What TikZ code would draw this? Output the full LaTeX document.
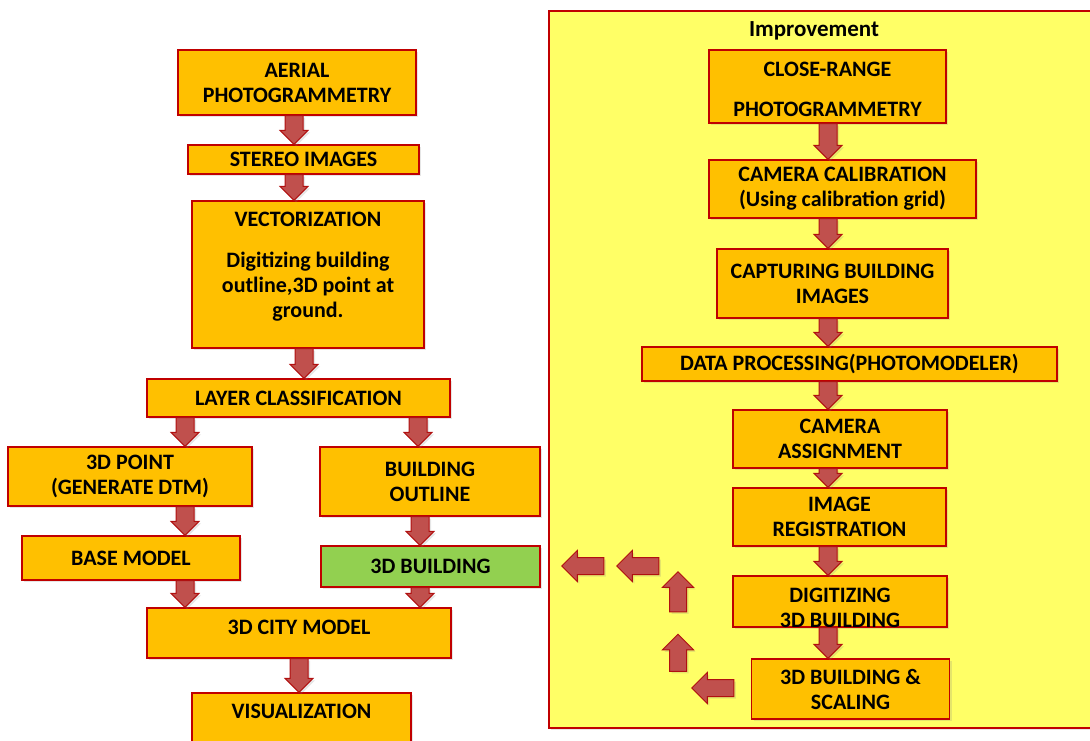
\documentclass[tikz,border=0pt]{standalone}
\usepackage{fontspec}
\setmainfont{Carlito}
\usetikzlibrary{calc,shapes.arrows,shadows}

\definecolor{boxfill}{HTML}{FFC000}
\definecolor{boxline}{HTML}{C00000}
\definecolor{arrfill}{HTML}{C0504D}
\definecolor{arrline}{HTML}{B01010}
\definecolor{greenfill}{HTML}{92D050}
\definecolor{panelfill}{HTML}{FFFF66}

\tikzset{
  box/.style={draw=boxline, fill=boxfill, line width=1.2pt, align=center,
    font=\bfseries\fontsize{22}{25}\selectfont,
    drop shadow={shadow xshift=2pt, shadow yshift=-2pt, opacity=0.2}},
  blk/.style={draw=arrline, fill=arrfill, line width=1pt,
    drop shadow={shadow xshift=2pt, shadow yshift=-2pt, opacity=0.2}},
  sidearrow/.style={single arrow, draw=arrline, fill=arrfill, line width=1pt,
    inner sep=8pt, single arrow head extend=7pt, minimum height=42pt,
    drop shadow={shadow xshift=2pt, shadow yshift=-2pt, opacity=0.2}}
}

% block arrow straight down at x = #1, from node #2 to node #3
\newcommand{\downblk}[3]{%
  \path[blk] let \p1=(#2.south), \p2=(#3.north) in
    ({#1pt-9pt},\y1) -- ({#1pt+9pt},\y1) -- ({#1pt+9pt},{\y2+14pt})
    -- ({#1pt+14pt},{\y2+14pt}) -- ({#1pt},\y2) -- ({#1pt-14pt},{\y2+14pt})
    -- ({#1pt-9pt},{\y2+14pt}) -- cycle;}

\begin{document}
\begin{tikzpicture}[x=1pt, y=-1pt]
  \useasboundingbox (0,0) rectangle (1090,740);

  % improvement panel
  \node[draw=boxline, fill=panelfill, line width=1.5pt, anchor=north west,
    minimum width=560, minimum height=717,
    drop shadow={shadow xshift=2pt, shadow yshift=-2pt, opacity=0.2}] (panel) at (548,10) {};
  \node[font=\bfseries\fontsize{23}{25}\selectfont] (imptitle) at (814,31) {Improvement};

  % aerial workflow
  \node[box, minimum width=238, minimum height=65] (aerial) at (297,82.5) {AERIAL\\PHOTOGRAMMETRY};
  \node[box, minimum width=231, minimum height=29] (stereo) at (303.5,159.5) {STEREO IMAGES};
  \node[box, minimum width=232, minimum height=147, text depth=20pt] (vect) at (308,274.5)
    {VECTORIZATION\\[16pt]Digitizing building\\outline,3D point at\\ground.};
  \node[box, minimum width=303, minimum height=38] (layer) at (298.5,398) {LAYER CLASSIFICATION};
  \node[box, minimum width=244, minimum height=59] (pt3d) at (130,476.5) {3D POINT\\(GENERATE DTM)};
  \node[box, minimum width=220, minimum height=69] (outline) at (430,481.5) {BUILDING\\OUTLINE};
  \node[box, minimum width=218, minimum height=44] (base) at (131,558) {BASE MODEL};
  \node[box, fill=greenfill, minimum width=219, minimum height=41] (bldg) at (430.5,566.5) {3D BUILDING};
  \node[box, minimum width=304, minimum height=50, text depth=12pt] (city) at (299,633) {3D CITY MODEL};
  \node[box, minimum width=219, minimum height=67, text depth=30pt] (vis) at (301.5,726.5) {VISUALIZATION};

  % close-range workflow
  \node[box, minimum width=237, minimum height=73, inner ysep=0pt, text height=66pt, text depth=7pt] (close) at (827.5,86.5) {CLOSE-RANGE\\[15pt]PHOTOGRAMMETRY};
  \node[box, minimum width=267, minimum height=58] (calib) at (842.5,189) {CAMERA CALIBRATION\\(Using calibration grid)};
  \node[box, minimum width=231, minimum height=69] (capt) at (832.5,283.5) {CAPTURING BUILDING\\IMAGES};
  \node[box, minimum width=415, minimum height=34] (data) at (849.5,364) {DATA PROCESSING(PHOTOMODELER)};
  \node[box, minimum width=214, minimum height=58] (camass) at (840,439) {CAMERA\\ASSIGNMENT};
  \node[box, minimum width=213, minimum height=58] (imreg) at (839.5,517) {IMAGE\\REGISTRATION};
  \node[box, minimum width=214, minimum height=51, inner ysep=0pt, text height=51pt, text depth=0pt] (digit) at (840,601.5) {DIGITIZING\\3D BUILDING};
  \node[box, minimum width=198, minimum height=60] (scal) at (850.5,689) {3D BUILDING \&\\SCALING};

  % arrows
  \downblk{294}{aerial}{stereo}
  \downblk{294}{stereo}{vect}
  \downblk{304}{vect}{layer}
  \downblk{185}{layer}{pt3d}
  \downblk{418}{layer}{outline}
  \downblk{185}{pt3d}{base}
  \downblk{420}{outline}{bldg}
  \downblk{185}{base}{city}
  \downblk{420}{bldg}{city}
  \downblk{299}{city}{vis}
  \foreach \a/\b in {close/calib, calib/capt, capt/data, data/camass,
                     camass/imreg, imreg/digit, digit/scal} {
    \downblk{828}{\a}{\b}
  }

  % loose arrows back towards the 3D building
  \node[sidearrow, shape border rotate=180] (back1) at (587,566) {};
  \node[sidearrow, shape border rotate=180] (back2) at (642,566) {};
  \node[sidearrow, shape border rotate=90, minimum height=40pt] (up1) at (678,596) {};
  \node[sidearrow, shape border rotate=90, minimum height=37pt] (up2) at (678,657) {};
  \node[sidearrow, shape border rotate=180] (back3) at (717,688) {};
\end{tikzpicture}
\end{document}
